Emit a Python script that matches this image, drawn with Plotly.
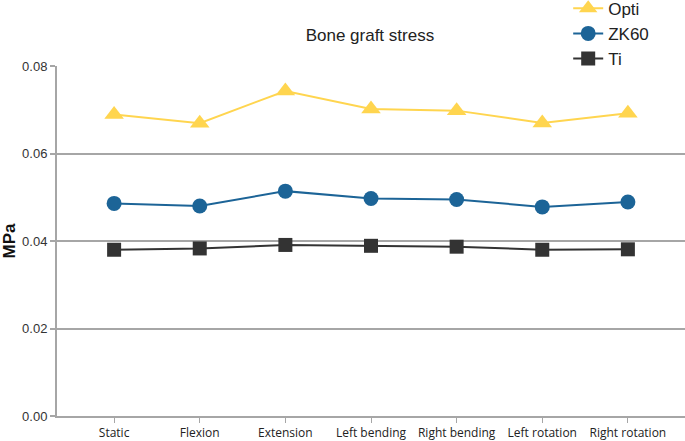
import plotly.graph_objects as go

categories = ["Static", "Flexion", "Extension", "Left bending", "Right bending", "Left rotation", "Right rotation"]
opti = [0.0689, 0.0669, 0.0743, 0.0702, 0.0698, 0.0670, 0.0692]
zk60 = [0.0486, 0.0480, 0.0514, 0.0497, 0.0495, 0.0478, 0.0489]
ti = [0.0380, 0.0383, 0.0391, 0.0389, 0.0387, 0.0380, 0.0381]
y_ticks = [0.0, 0.02, 0.04, 0.06, 0.08]
y_tick_labels = ["0.00", "0.02", "0.04", "0.06", "0.08"]

fig = go.Figure()
fig.add_trace(go.Scatter(x=categories, y=opti, name="Opti", mode="lines+markers",
                         line=dict(color="#FFD54F", width=2),
                         marker=dict(symbol="triangle-up", size=17, color="#FFD54F")))
fig.add_trace(go.Scatter(x=categories, y=zk60, name="ZK60", mode="lines+markers",
                         line=dict(color="#1C6497", width=2),
                         marker=dict(symbol="circle", size=15, color="#1C6497")))
fig.add_trace(go.Scatter(x=categories, y=ti, name="Ti", mode="lines+markers",
                         line=dict(color="#333333", width=2),
                         marker=dict(symbol="square", size=14, color="#333333")))

fig.update_layout(
    width=685, height=441,
    margin=dict(l=57, r=0, t=66, b=25, autoexpand=False),
    plot_bgcolor="white", paper_bgcolor="white",
    font=dict(family="Liberation Sans, Arial, sans-serif", color="#333333"),
    title=dict(text="Bone graft stress", x=0.54, xanchor="center", y=0.92, yanchor="middle",
               font=dict(size=17, color="#222222")),
    legend=dict(x=0.814, y=1.215, xanchor="left", yanchor="top",
                font=dict(size=17, color="#222222"), bgcolor="rgba(0,0,0,0)",
                tracegroupgap=0, itemwidth=30),
    xaxis=dict(type="category", range=[-0.667, 6.667], showgrid=False,
               showline=True, linecolor="#A6A6A6", linewidth=2,
               ticks="outside", ticklen=5, tickcolor="#A6A6A6", tickwidth=1,
               tickfont=dict(size=12, family="Open Sans, sans-serif", color="#222222")),
    yaxis=dict(range=[0, 0.08], tickvals=y_ticks, ticktext=y_tick_labels,
               showgrid=True, gridcolor="#A6A6A6", gridwidth=2,
               showline=True, linecolor="#A6A6A6", linewidth=2,
               ticks="outside", ticklen=5, tickcolor="#A6A6A6", tickwidth=2,
               zeroline=False,
               tickfont=dict(size=13, color="#333333"),
               title=dict(text="<b>MPa</b>", font=dict(size=17, color="#111111"), standoff=6)),
)

fig.write_html("out.html", config={"displayModeBar": False},
               post_script="document.body.style.margin='0';document.body.style.overflow='hidden';")
